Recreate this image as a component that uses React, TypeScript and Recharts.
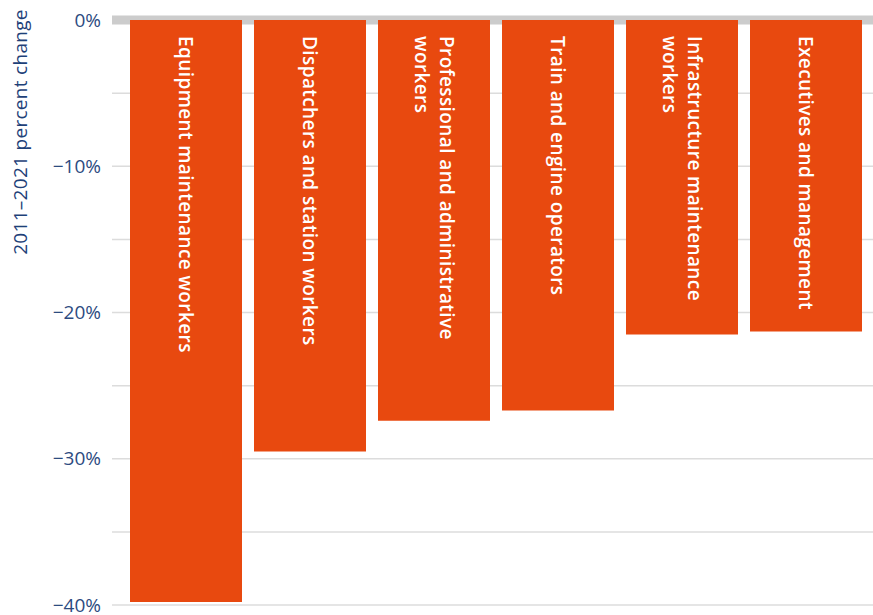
import { BarChart, Bar, XAxis, YAxis, CartesianGrid, ReferenceLine, LabelList } from "recharts";

const categories = [
  "Equipment maintenance workers",
  "Dispatchers and station workers",
  "Professional and administrative workers",
  "Train and engine operators",
  "Infrastructure maintenance workers",
  "Executives and management",
];
const values = [-39.8, -29.5, -27.4, -26.7, -21.5, -21.3];
const labelLines = [
  ["Equipment maintenance workers"],
  ["Dispatchers and station workers"],
  ["Professional and administrative", "workers"],
  ["Train and engine operators"],
  ["Infrastructure maintenance", "workers"],
  ["Executives and management"],
];
const yTicks = [0, -5, -10, -15, -20, -25, -30, -35, -40];
const yLabelled = [0, -10, -20, -30, -40];

const data = categories.map((name, i) => ({ name, value: values[i], lines: labelLines[i] }));

const FONT = "'Open Sans', sans-serif";

const BarText = (props: any) => {
  const { x, y, width, height, index } = props;
  const lines = labelLines[index] || [];
  const top = Math.min(y, y + height) + 16;
  const cx = x + width / 2;
  const lh = 25;
  return (
    <g>
      {lines.map((line, i) => {
        const off = (i - (lines.length - 1) / 2) * lh;
        return (
          <text
            key={i}
            x={cx - off}
            y={top}
            transform={`rotate(90, ${cx - off}, ${top})`}
            textAnchor="start"
            dominantBaseline="central"
            fill="#ffffff"
            fontFamily={FONT}
            fontWeight={600}
            fontSize={19}
            letterSpacing={0.4}
          >
            {line}
          </text>
        );
      })}
    </g>
  );
};

const AxisTitle = (props: any) => {
  const vb = props.viewBox || { x: 12, y: 20 };
  const x = 20;
  const y = vb.y + 112;
  return (
    <text
      x={x}
      y={y}
      transform={`rotate(-90, ${x}, ${y})`}
      textAnchor="middle"
      dominantBaseline="central"
      fill="#1e4178"
      fontFamily={FONT}
      fontSize={19}
      letterSpacing={0.3}
    >
      2011–2021 percent change
    </text>
  );
};

const App = () => {
  return (
    <div style={{ position: "absolute", left: 0, top: 0, background: "#fff" }}>
      <BarChart
        width={873}
        height={615}
        data={data}
        margin={{ top: 20, right: 0, bottom: 10, left: 12 }}
        barCategoryGap={6}
      >
        <CartesianGrid vertical={false} stroke="#dcdcdc" strokeWidth={1.5} />
        <XAxis dataKey="name" hide padding={{ left: 12, right: 5 }} />
        <YAxis
          width={100}
          domain={[-40, 0]}
          ticks={yTicks}
          interval={0}
          axisLine={false}
          tickLine={false}
          tickSize={0}
          tickMargin={11}
          tickFormatter={(v: number) => (yLabelled.includes(v) ? (v === 0 ? "0%" : `−${Math.abs(v)}%`) : "")}
          tick={{ fill: "#2d4b7f", fontSize: 19, fontFamily: FONT }}
          label={<AxisTitle />}
        />
        <ReferenceLine y={0} stroke="#cccccc" strokeWidth={9} zIndex={-50} />
        <Bar dataKey="value" fill="#e8490f" isAnimationActive={false}>
          <LabelList dataKey="name" content={<BarText />} />
        </Bar>
      </BarChart>
    </div>
  );
};

export default App;
